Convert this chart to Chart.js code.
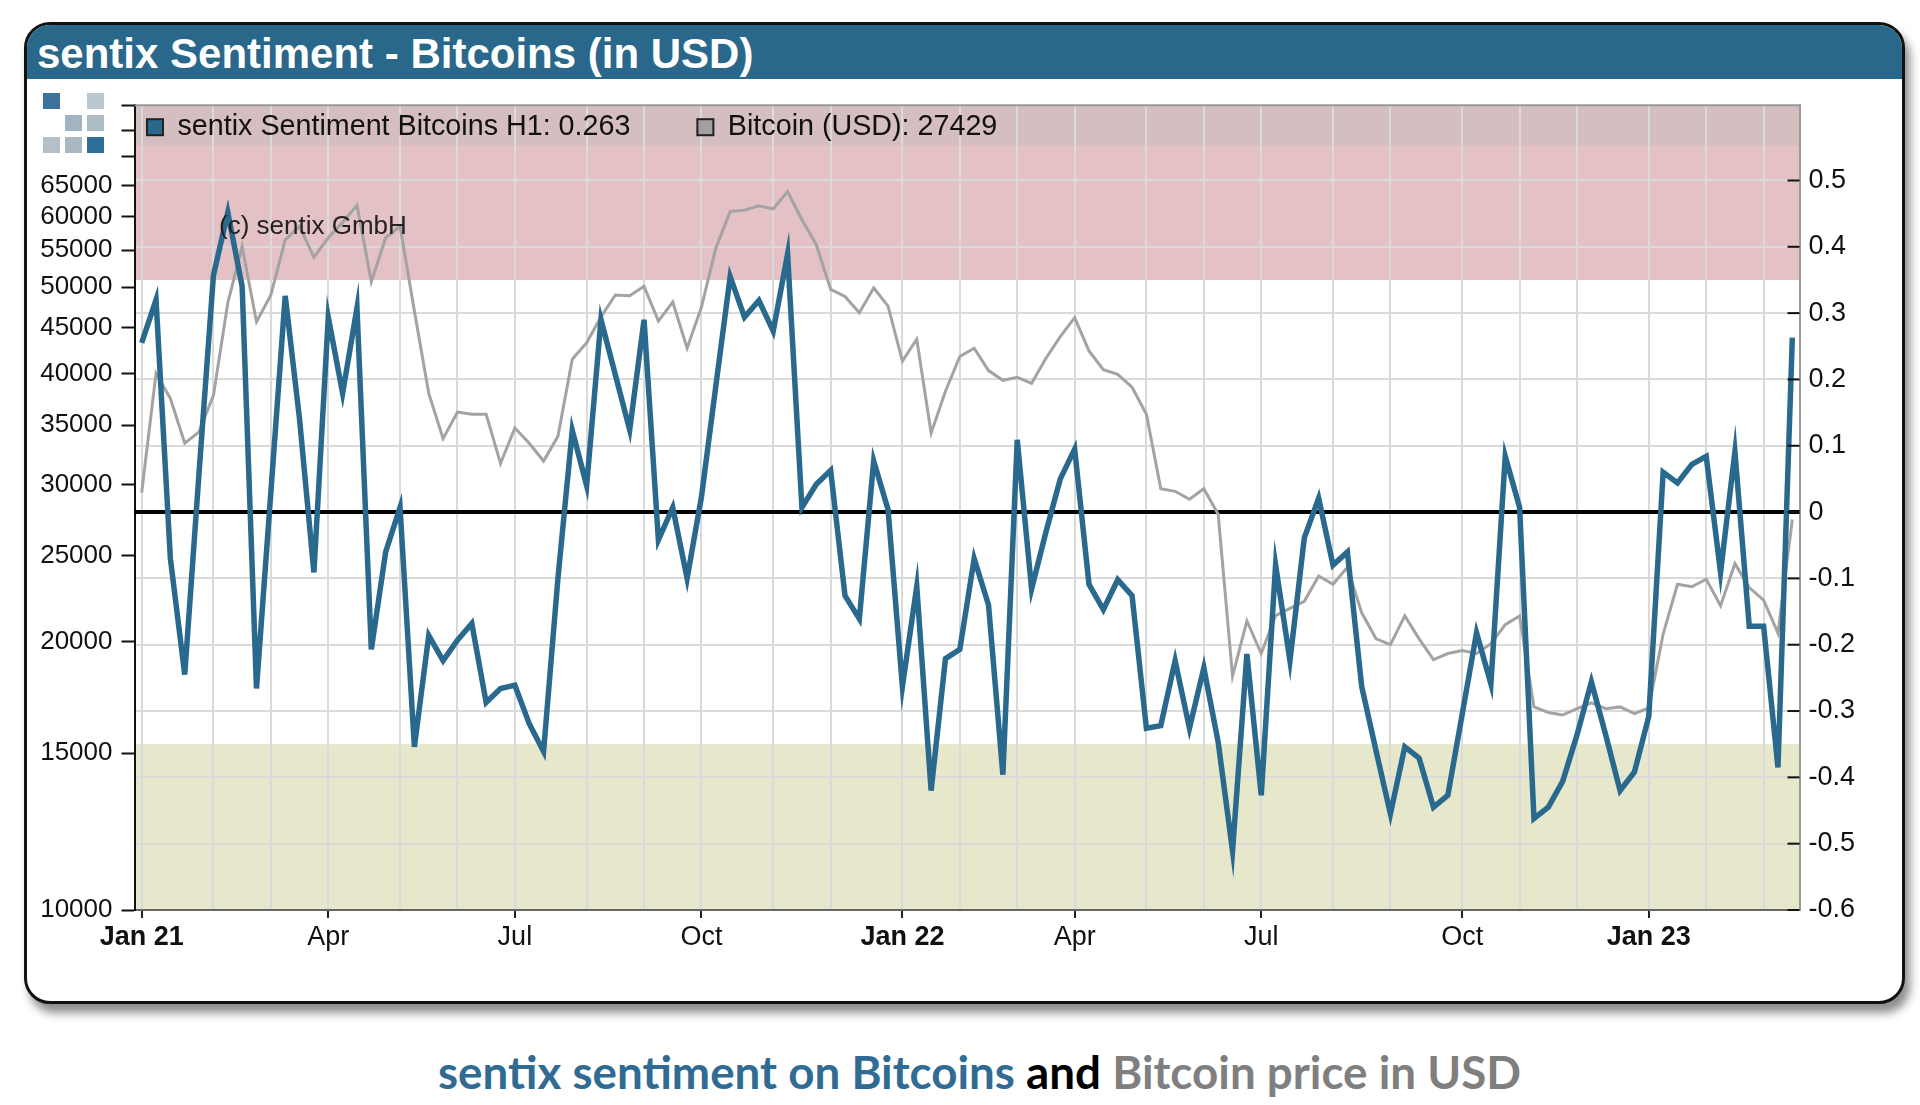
<!DOCTYPE html>
<html>
<head>
<meta charset="utf-8">
<script src="https://cdn.jsdelivr.net/npm/chart.js@4.4.1/dist/chart.umd.min.js"></script>
<style>
  html, body { margin:0; padding:0; background:#ffffff; width:1920px; height:1105px; overflow:hidden; }
  #frame { position:absolute; left:24px; top:22px; width:1875px; height:976px; border:3px solid #111; border-radius:26px;
           box-shadow:5px 9px 10px rgba(0,0,0,0.45); background:#fff; overflow:hidden; }
  #titlebar { position:absolute; left:0; top:0; width:100%; height:54px; background:#29688b; }
  #title { position:absolute; left:10px; top:5px; line-height:53px; font:bold 42px 'Liberation Sans', Arial, sans-serif; color:#fff; white-space:nowrap; }
  .sq { position:absolute; width:17px; height:16px; }
  #chartWrap { position:absolute; left:24px; top:80px; width:1880px; height:920px; }
  #cap { position:absolute; left:438px; top:1044px; line-height:58px; font:bold 46px Lato, 'Open Sans', sans-serif; white-space:nowrap; transform-origin:0 50%; }
  #cap .b { color:#2f6b92; } #cap .k { color:#000; } #cap .g { color:#7f7f7f; }
</style>
</head>
<body>
<div id="frame">
  <div id="titlebar"></div>
  <div id="title">sentix Sentiment - Bitcoins (in USD)</div>
</div>
<div class="sq" style="left:43px;top:93px;background:#3a729b"></div>
<div class="sq" style="left:87px;top:93px;background:#bcc8d0"></div>
<div class="sq" style="left:65px;top:115px;background:#a2b4c1"></div>
<div class="sq" style="left:87px;top:115px;background:#aebcc6"></div>
<div class="sq" style="left:43px;top:137px;background:#b3c0ca"></div>
<div class="sq" style="left:65px;top:137px;background:#a9b8c3"></div>
<div class="sq" style="left:87px;top:137px;background:#2f6e99"></div>
<div id="chartWrap"><canvas id="c" width="1880" height="920"></canvas></div>
<div id="cap"><span class="b">sentix sentiment on Bitcoins</span> <span class="k">and</span> <span class="g">Bitcoin price in USD</span></div>
<script>
// ---------------- data ----------------
const dates = [
 '2021-01-01','2021-01-08','2021-01-15','2021-01-22','2021-01-29','2021-02-05','2021-02-12','2021-02-19','2021-02-26',
 '2021-03-05','2021-03-12','2021-03-19','2021-03-26','2021-04-02','2021-04-09','2021-04-16','2021-04-23','2021-04-30',
 '2021-05-07','2021-05-14','2021-05-21','2021-05-28','2021-06-04','2021-06-11','2021-06-18','2021-06-25','2021-07-02',
 '2021-07-09','2021-07-16','2021-07-23','2021-07-30','2021-08-06','2021-08-13','2021-08-20','2021-08-27','2021-09-03',
 '2021-09-10','2021-09-17','2021-09-24','2021-10-01','2021-10-08','2021-10-15','2021-10-22','2021-10-29','2021-11-05',
 '2021-11-12','2021-11-19','2021-11-26','2021-12-03','2021-12-10','2021-12-17','2021-12-24','2021-12-31',
 '2022-01-07','2022-01-14','2022-01-21','2022-01-28','2022-02-04','2022-02-11','2022-02-18','2022-02-25','2022-03-04',
 '2022-03-11','2022-03-18','2022-03-25','2022-04-01','2022-04-08','2022-04-15','2022-04-22','2022-04-29','2022-05-06',
 '2022-05-13','2022-05-20','2022-05-27','2022-06-03','2022-06-10','2022-06-17','2022-06-24','2022-07-01','2022-07-08',
 '2022-07-15','2022-07-22','2022-07-29','2022-08-05','2022-08-12','2022-08-19','2022-08-26','2022-09-02','2022-09-09',
 '2022-09-16','2022-09-23','2022-09-30','2022-10-07','2022-10-14','2022-10-21','2022-10-28','2022-11-04','2022-11-11',
 '2022-11-18','2022-11-25','2022-12-02','2022-12-09','2022-12-16','2022-12-23','2022-12-30',
 '2023-01-06','2023-01-13','2023-01-20','2023-01-27','2023-02-03','2023-02-10','2023-02-17','2023-02-24','2023-03-03',
 '2023-03-10','2023-03-17'
];
const sentiment = [
 0.255,0.32,-0.07,-0.245,0.06,0.357,0.452,0.34,-0.266,0.03,
 0.326,0.14,-0.091,0.294,0.179,0.308,-0.207,-0.06,0.007,-0.354,
 -0.186,-0.224,-0.193,-0.168,-0.287,-0.266,-0.261,-0.319,-0.361,-0.1,
 0.123,0.04,0.29,0.207,0.124,0.29,-0.042,0.007,-0.1,0.023,
 0.19,0.355,0.294,0.319,0.273,0.389,0.007,0.042,0.063,-0.126,
 -0.161,0.077,0.004,-0.263,-0.112,-0.42,-0.221,-0.207,-0.07,-0.14,
 -0.396,0.109,-0.116,-0.03,0.05,0.095,-0.109,-0.147,-0.102,-0.126,
 -0.326,-0.322,-0.224,-0.326,-0.235,-0.347,-0.511,-0.214,-0.427,-0.08,
 -0.224,-0.039,0.021,-0.08,-0.06,-0.263,-0.36,-0.455,-0.354,-0.371,
 -0.445,-0.427,-0.305,-0.182,-0.259,0.084,0.007,-0.462,-0.445,-0.406,
 -0.336,-0.256,-0.336,-0.42,-0.392,-0.308,0.06,0.044,0.072,0.084,
 -0.091,0.091,-0.172,-0.172,-0.385,0.263
];
const bitcoinUSD = [
 29400,40000,37500,33400,34400,37800,48000,55500,45700,49000,
 56500,58500,54000,56800,59100,61800,50700,56800,58500,47000,
 38000,33800,36200,36000,36000,31700,34750,33400,31900,34000,
 41500,43300,46300,49000,48900,50100,45800,48100,42700,47500,
 55300,60800,61000,61700,61200,64000,59500,55800,49700,48800,
 46800,49900,47600,41300,43700,34300,38200,41800,42700,40300,
 39300,39600,39000,41600,44000,46200,42400,40400,39900,38600,
 36000,29700,29500,28900,29700,27800,18300,21100,19400,21400,
 21800,22200,23700,23200,24240,21550,20150,19850,21380,20150,
 19100,19400,19550,19400,19900,20900,21380,16900,16660,16550,
 16830,17080,16820,16900,16610,16860,20400,23200,23050,23510,
 21950,24470,23000,22270,20450,27429
];
const seriesNames = ['sentix Sentiment Bitcoins H1', 'Bitcoin (USD)'];
const priceTicks = [10000,15000,20000,25000,30000,35000,40000,45000,50000,55000,60000,65000,70000,75000,80000];
const priceLabelMax = 65000;
const sentimentTicks = [-0.6,-0.5,-0.4,-0.3,-0.2,-0.1,0,0.1,0.2,0.3,0.4,0.5];
const monthNames = ['Jan','Feb','Mar','Apr','May','Jun','Jul','Aug','Sep','Oct','Nov','Dec'];
const labelledMonths = [0,3,6,9];
const zoneHigh = 0.35, zoneLow = -0.35;
const watermark = '(c) sentix GmbH';

// ---------------- helpers ----------------
const FONT = "'Liberation Sans', Arial, sans-serif";
const BLUE = '#29698e', GREY = '#a3a3a3';
function parts(i){ const s = dates[i].split('-'); return {y:+s[0], m:+s[1]-1, d:+s[2]}; }
function isMonthStart(i){ return parts(i).d <= 7; }
function isLabelled(i){ return isMonthStart(i) && labelledMonths.includes(parts(i).m); }

Chart.defaults.font.family = FONT;

const plotPlugin = {
  id:'plotDeco',
  beforeDraw(chart){
    const {ctx, chartArea:ca} = chart; const y2 = chart.scales.y2;
    ctx.save();
    const yh = y2.getPixelForValue(zoneHigh), yl = y2.getPixelForValue(zoneLow);
    ctx.fillStyle = '#e3c1c4'; ctx.fillRect(ca.left, ca.top, ca.right-ca.left, yh-ca.top);
    ctx.fillStyle = '#e7e7cb'; ctx.fillRect(ca.left, yl, ca.right-ca.left, ca.bottom-yl);
    ctx.fillStyle = 'rgba(185,185,185,0.32)'; ctx.fillRect(ca.left, ca.top, ca.right-ca.left, 40);
    ctx.restore();
  },
  beforeDatasetsDraw(chart){
    const {ctx, chartArea:ca} = chart; const y0 = chart.scales.y2.getPixelForValue(0);
    ctx.save();
    ctx.strokeStyle = '#999'; ctx.lineWidth = 2;
    ctx.beginPath(); ctx.moveTo(ca.left, ca.top); ctx.lineTo(ca.right, ca.top); ctx.stroke();
    ctx.strokeStyle = '#000'; ctx.lineWidth = 4;
    ctx.beginPath(); ctx.moveTo(ca.left, y0); ctx.lineTo(ca.right, y0); ctx.stroke();
    ctx.restore();
  },
  afterDraw(chart){
    const {ctx, chartArea:ca} = chart; const y2 = chart.scales.y2;
    ctx.save();
    // inner tick marks of the right axis
    ctx.strokeStyle = '#111'; ctx.lineWidth = 2;
    y2.ticks.forEach(t => { const y = y2.getPixelForValue(t.value);
      ctx.beginPath(); ctx.moveTo(ca.right-12, y); ctx.lineTo(ca.right, y); ctx.stroke(); });
    // legend inside the plot
    ctx.font = '28.7px ' + FONT; ctx.textBaseline = 'middle';
    let x = ca.left + 12.5; const y = ca.top + 22;
    chart.data.datasets.forEach(ds => {
      const txt = ds.label + ': ' + ds.data[ds.data.length-1];
      ctx.fillStyle = ds.legendFill; ctx.fillRect(x, y-8, 16, 16);
      ctx.strokeStyle = '#222'; ctx.lineWidth = 2; ctx.strokeRect(x, y-8, 16, 16);
      ctx.fillStyle = '#111'; ctx.fillText(txt, x + 30.5, y);
      x += 30.5 + ctx.measureText(txt).width + 67;
    });
    // watermark
    ctx.font = '26px ' + FONT; ctx.fillStyle = '#222';
    ctx.fillText(watermark, ca.left + 84.5, ca.top + 122);
    ctx.restore();
  }
};

new Chart(document.getElementById('c'), {
  type:'line',
  data:{
    labels: dates,
    datasets:[
      { label:seriesNames[0], data:sentiment, yAxisID:'y2', borderColor:BLUE, legendFill:BLUE, borderWidth:5.5,
        pointRadius:0, tension:0, fill:false },
      { label:seriesNames[1], data:bitcoinUSD, yAxisID:'y', borderColor:GREY, legendFill:'#a0a0a0', borderWidth:3,
        pointRadius:0, tension:0, fill:false }
    ]
  },
  options:{
    responsive:false, animation:false, devicePixelRatio:1,
    layout:{ padding:{ top:23, left:0, right:0, bottom:0 } },
    plugins:{ legend:{display:false}, tooltip:{enabled:false} },
    scales:{
      x:{
        type:'category', offset:true,
        afterBuildTicks: s => { s.ticks = s.ticks.filter(t => isMonthStart(t.value)); },
        afterFit: s => { s.height = 90; },
        grid:{ color:'#dadada', lineWidth:2, drawTicks:true, tickLength:8, tickWidth:2,
               tickColor: c => (c.tick && isLabelled(c.tick.value)) ? '#222' : 'rgba(0,0,0,0)' },
        border:{ display:true, color:'#666', width:2 },
        ticks:{ autoSkip:false, maxRotation:0, padding:3, color:'#111',
          font: c => ({ family:FONT, size:27, weight: (c.tick && isLabelled(c.tick.value) && parts(c.tick.value).m === 0) ? 'bold' : 'normal' }),
          callback: v => { if (!isLabelled(v)) return ''; const p = parts(v);
            return p.m === 0 ? monthNames[0] + ' ' + String(p.y).slice(2) : monthNames[p.m]; } }
      },
      y:{
        type:'logarithmic', position:'left', min:10000, max:80000,
        afterBuildTicks: s => { s.ticks = priceTicks.map(v => ({value:v})); },
        afterFit: s => { s.width = 110.5; },
        grid:{ drawOnChartArea:false, drawTicks:true, tickLength:13, tickWidth:2, tickColor:'#111' },
        border:{ display:true, color:'#111', width:2 },
        ticks:{ autoSkip:false, padding:9, color:'#111', font:{ size:26 },
          callback: v => v <= priceLabelMax ? String(v) : '' }
      },
      y2:{
        type:'linear', position:'right', min:-0.6, max:0.6135,
        afterBuildTicks: s => { s.ticks = sentimentTicks.map(v => ({value:v})); },
        afterFit: s => { s.width = 104.5; },
        grid:{ drawOnChartArea:true, color:'#dadada', lineWidth:2, drawTicks:false },
        border:{ display:true, color:'#9a9a9a', width:2 },
        ticks:{ autoSkip:false, padding:9, color:'#111', font:{ size:27 },
          callback: v => v === 0 ? '0' : v.toFixed(1) }
      }
    }
  },
  plugins:[plotPlugin]
});

// fit caption width to the reference
(function(){ const cap = document.getElementById('cap'); const w = cap.getBoundingClientRect().width;
  cap.style.transform = 'scaleX(' + (1083 / w) + ')'; })();
</script>
</body>
</html>
